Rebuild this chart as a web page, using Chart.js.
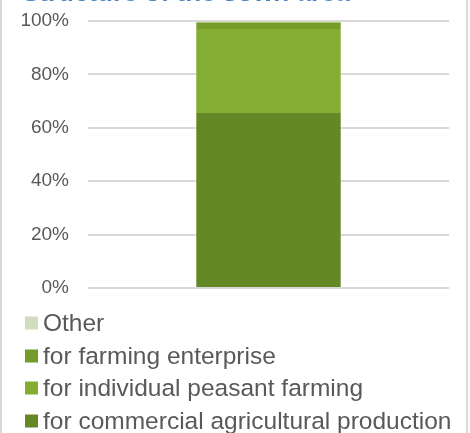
<!DOCTYPE html>
<html>
<head>
<meta charset="utf-8">
<script src="https://cdn.jsdelivr.net/npm/chart.js@4/dist/chart.umd.min.js"></script>
<style>
  html, body { margin: 0; padding: 0; background: #fff; }
  #wrap { position: relative; width: 470px; height: 433px; overflow: hidden; }
  #holder { position: absolute; left: 0; top: -30px; width: 470px; height: 463px; }
  .bl { position: absolute; top: 0; width: 2px; height: 433px; background: #d9d9d9; }
</style>
</head>
<body>
<div id="wrap">
  <div id="holder"><canvas id="c" width="470" height="463"></canvas></div>
  <div class="bl" style="left:0"></div>
  <div class="bl" style="left:466px"></div>
</div>
<script>
// ---- data ----
const titleText = "Structure of the sown area";
const categories = [""];
const seriesNames = [
  "for commercial agricultural production",
  "for individual peasant farming",
  "for farming enterprise",
  "Other"
];
const commercial = [65.5];
const individual = [31.5];
const enterprise = [2.4];
const other = [0.6];
const yTicks = [0, 20, 40, 60, 80, 100];

const colors = ["#648826", "#83ae32", "#759c2b", "#d0ddbe"];
const seriesValues = [commercial, individual, enterprise, other];

const SHIFT = 30;

const titlePlugin = {
  id: 'cutTitle',
  afterDraw(chart) {
    const ctx = chart.ctx;
    ctx.save();
    ctx.fillStyle = '#4a82bd';
    ctx.font = 'bold 26px "Liberation Sans", Arial, sans-serif';
    ctx.textBaseline = 'alphabetic';
    ctx.textAlign = 'left';
    ctx.fillText(titleText, 22, 1 + SHIFT, 328);
    ctx.restore();
  }
};

const legendPlugin = {
  id: 'stackLegend',
  afterDraw(chart) {
    const ctx = chart.ctx;
    const ds = chart.data.datasets;
    ctx.save();
    ctx.font = '24.5px "Liberation Sans", Arial, sans-serif';
    ctx.textBaseline = 'middle';
    ctx.textAlign = 'left';
    const rows = [323, 356, 388, 421];
    for (let i = 0; i < ds.length; i++) {
      const d = ds[ds.length - 1 - i];
      const cy = rows[i] + SHIFT;
      ctx.fillStyle = d.backgroundColor;
      ctx.fillRect(25, cy - 6.5, 13, 13);
      ctx.fillStyle = '#595959';
      ctx.fillText(d.label, 43, cy + 1);
    }
    ctx.restore();
  }
};

new Chart(document.getElementById('c'), {
  type: 'bar',
  data: {
    labels: categories,
    datasets: seriesNames.map((n, i) => ({
      label: n,
      data: seriesValues[i],
      backgroundColor: colors[i],
      borderWidth: 0,
      barPercentage: 0.4,
      categoryPercentage: 1.0
    }))
  },
  options: {
    responsive: false,
    animation: false,
    devicePixelRatio: 1,
    layout: { padding: { top: 21 + SHIFT, bottom: 463 - (288 + SHIFT), left: 0, right: 21 } },
    plugins: {
      legend: { display: false },
      title: { display: false },
      tooltip: { enabled: false }
    },
    scales: {
      x: {
        stacked: true,
        display: false
      },
      y: {
        stacked: true,
        min: 0,
        max: 100,
        afterBuildTicks(scale) { scale.ticks = yTicks.map(v => ({ value: v })); },
        afterFit(scale) { scale.width = 88; },
        border: { display: false },
        grid: { color: '#d9d9d9', lineWidth: 2, drawTicks: false },
        ticks: {
          padding: 19,
          color: '#595959',
          font: { family: '"Liberation Sans", Arial, sans-serif', size: 19 },
          callback: v => v + '%'
        }
      }
    }
  },
  plugins: [titlePlugin, legendPlugin]
});
</script>
</body>
</html>
